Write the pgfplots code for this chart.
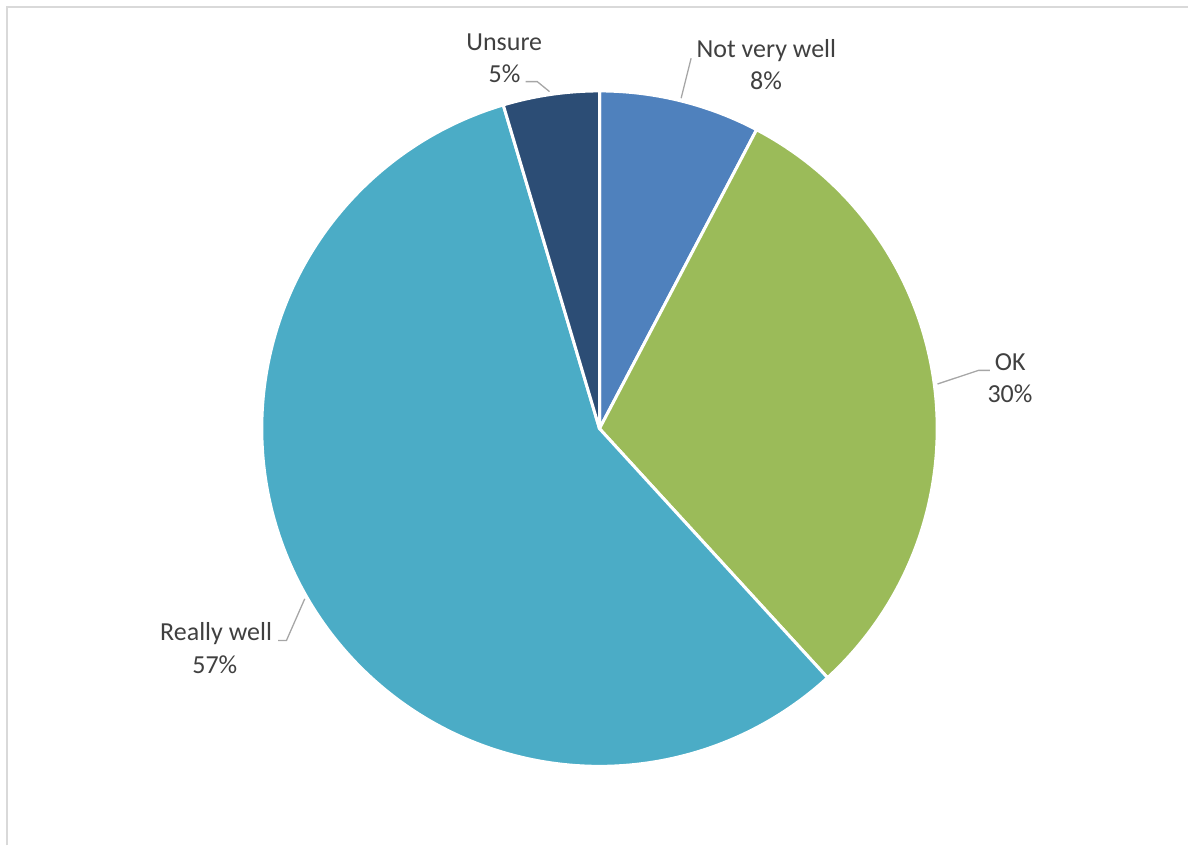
\documentclass[border=0pt]{standalone}
\usepackage{pgfplots}
\pgfplotsset{compat=1.18}
\usepackage{fontspec}
\setmainfont{Carlito}
\definecolor{cNVW}{HTML}{4F81BD}
\definecolor{cOK}{HTML}{9BBB59}
\definecolor{cRW}{HTML}{4BACC6}
\definecolor{cUN}{HTML}{2C4D75}
\definecolor{txt}{HTML}{404040}
\definecolor{lead}{HTML}{A6A6A6}
\definecolor{frame}{HTML}{D9D9D9}
\begin{document}
\begin{tikzpicture}
% shares in percent, clockwise from 12 o'clock
\def\vA{7.7}  % Not very well
\def\vB{30.5} % OK
\def\vC{57.2} % Really well
\def\vD{4.6}  % Unsure
\pgfmathsetmacro{\aA}{90}
\pgfmathsetmacro{\aB}{\aA-3.6*\vA}
\pgfmathsetmacro{\aC}{\aB-3.6*\vB}
\pgfmathsetmacro{\aD}{\aC-3.6*\vC}
\pgfmathsetmacro{\aE}{\aD-3.6*\vD}
\def\cx{600}\def\cy{429}\def\R{338}
\begin{axis}[
  x=1bp, y=1bp, y dir=reverse,
  xmin=0, xmax=1189, ymin=0, ymax=846,
  hide axis, clip=false, scale only axis,
]
\addplot[draw=none] coordinates {(0,0) (1189,846)};
\addplot[frame, line width=2bp] coordinates {(7,846) (7,7) (1189,7)};
\addplot[fill=cNVW, draw=white, line width=3bp, line join=round, domain=\aB:\aA, samples=60, variable=\t] ({\cx+\R*cos(\t)},{\cy-\R*sin(\t)}) -- (\cx,\cy) -- cycle;
\addplot[fill=cOK, draw=white, line width=3bp, line join=round, domain=\aC:\aB, samples=120, variable=\t] ({\cx+\R*cos(\t)},{\cy-\R*sin(\t)}) -- (\cx,\cy) -- cycle;
\addplot[fill=cRW, draw=white, line width=3bp, line join=round, domain=\aD:\aC, samples=200, variable=\t] ({\cx+\R*cos(\t)},{\cy-\R*sin(\t)}) -- (\cx,\cy) -- cycle;
\addplot[fill=cUN, draw=white, line width=3bp, line join=round, domain=\aE:\aD, samples=40, variable=\t] ({\cx+\R*cos(\t)},{\cy-\R*sin(\t)}) -- (\cx,\cy) -- cycle;
% leader lines
\addplot[lead, line width=1.3bp] coordinates {(526,81.7) (537.7,81.7) (550,91.7)};
\addplot[lead, line width=1.3bp] coordinates {(691.7,58.3) (681.7,98.3)};
\addplot[lead, line width=1.3bp] coordinates {(990.7,370.7) (979.3,370.7) (938.3,384.3)};
\addplot[lead, line width=1.3bp] coordinates {(278.3,641) (286.7,641) (305,599.3)};
% labels
\begin{scope}[every node/.style={inner sep=0pt, anchor=base, text=txt, font=\fontsize{26.1}{31.6}\selectfont}]
\node at (axis cs:504.7,50.7) {Unsure};
\node at (axis cs:505,82.3) {5\%};
\node at (axis cs:767,57.7) {Not very well};
\node at (axis cs:766.7,89.3) {8\%};
\node at (axis cs:1011,370.7) {OK};
\node at (axis cs:1010.8,403.3) {30\%};
\node at (axis cs:216.3,641) {Really well};
\node at (axis cs:215,674.3) {57\%};
\end{scope}
\end{axis}
\end{tikzpicture}
\end{document}
